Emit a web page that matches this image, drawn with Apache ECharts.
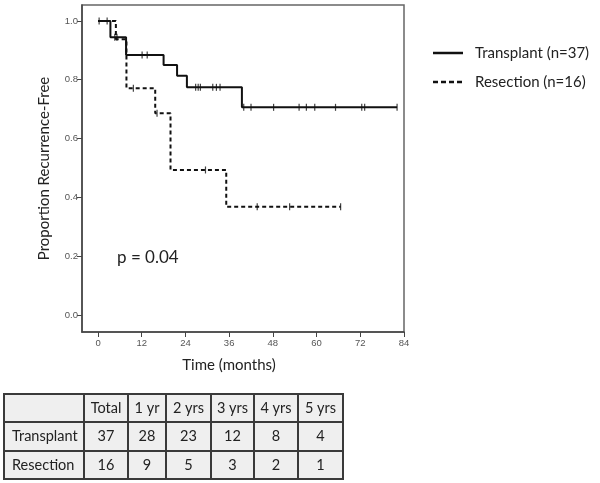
<!DOCTYPE html>
<html><head><meta charset="utf-8">
<script src="https://cdn.jsdelivr.net/npm/echarts@6/dist/echarts.min.js"></script>
<style>html,body{margin:0;padding:0;background:#fff}#c{width:600px;height:483px}</style>
</head><body><div id="c"></div>
<script>
// Kaplan-Meier step points [month, proportion]
const transplantCurve = [[0,1.0],[3.4,0.944],[7.7,0.884],[18.0,0.850],[21.7,0.813],[24.4,0.774],[39.5,0.706],[82.1,0.706]];
const resectionCurve = [[0,1.0],[4.9,0.9375],[7.8,0.771],[15.7,0.686],[19.9,0.493],[35.2,0.368],[66.6,0.368]];
// censor times (months)
const transplantCensor = [0.3,2.5,4.6,5.2,12.1,13.5,26.8,27.5,28.1,31.5,32.5,33.5,40.0,42.0,48.2,55.2,57.2,59.5,65.2,72.4,73.2,82.1];
const resectionCensor = [9.7,16.2,29.5,43.7,52.6,66.6];
const xTicks = [0,12,24,36,48,60,72,84];
const yTicks = [0.0,0.2,0.4,0.6,0.8,1.0];
const legendNames = ['Transplant (n=37)', 'Resection (n=16)'];
const tableHeader = ['', 'Total', '1 yr', '2 yrs', '3 yrs', '4 yrs', '5 yrs'];
const tableRows = [['Transplant', 37, 28, 23, 12, 8, 4], ['Resection', 16, 9, 5, 3, 2, 1]];
const pText = 'p = 0.04';

function survAt(curve, t){ let v = curve[0][1]; for (const p of curve){ if (p[0] <= t) v = p[1]; } return v; }

const chart = echarts.init(document.getElementById('c'));
const font = 'Lato, "Open Sans", sans-serif';

// table graphics
const colX = [4,84,128,166,211,254,298,343];
const rowY = [394,422,451,479];
const g = [];
const allRows = [tableHeader].concat(tableRows);
for (let r = 0; r < allRows.length; r++) {
  for (let c = 0; c < 7; c++) {
    g.push({type:'rect', shape:{x:colX[c], y:rowY[r], width:colX[c+1]-colX[c], height:rowY[r+1]-rowY[r]},
      style:{fill:'#efefef', stroke:'#3a3a3a', lineWidth:2}, z:1});
    const txt = String(allRows[r][c]);
    if (!txt) continue;
    const left = c === 0;
    g.push({type:'text', x: left ? colX[c]+8 : (colX[c]+colX[c+1])/2, y:(rowY[r]+rowY[r+1])/2,
      style:{text:txt, font:'14.5px ' + font, fill:'#222', align: left ? 'left':'center', verticalAlign:'middle'}, z:2});
  }
}
g.push({type:'text', x:117, y:258, style:{text:pText, font:'17px ' + font, fill:'#222', align:'left', verticalAlign:'middle'}});
// legend
const legY = [53, 82];
legendNames.forEach((n, i) => {
  g.push({type:'line', shape:{x1:433, y1:legY[i], x2:463, y2:legY[i]},
    style:{stroke:'#111', lineWidth:2.5, lineDash: i === 1 ? [5,3] : null}});
  g.push({type:'text', x:475, y:legY[i], style:{text:n, font:'15px ' + font, fill:'#222', align:'left', verticalAlign:'middle'}});
});

chart.setOption({
  animation:false,
  grid:{left:82, right:196, top:5, bottom:151, show:true, borderColor:'#666', borderWidth:1.5},
  xAxis:{type:'value', min:-4.4, max:84,
    axisLine:{show:true, onZero:false, lineStyle:{color:'#444', width:1.5}},
    axisTick:{show:true, length:5, customValues:xTicks, lineStyle:{color:'#444'}},
    axisLabel:{customValues:xTicks, fontSize:9.5, color:'#555', fontFamily:'"Liberation Sans", Arial, sans-serif', margin:6},
    splitLine:{show:false},
    name:'Time (months)', nameLocation:'middle', nameGap:26,
    nameTextStyle:{fontFamily:font, fontSize:15, color:'#222', padding:[0,28,0,0]}},
  yAxis:{type:'value', min:-0.058, max:1.054,
    axisLine:{show:true, onZero:false, lineStyle:{color:'#444', width:1.5}},
    axisTick:{show:true, length:5, customValues:yTicks, lineStyle:{color:'#444'}},
    axisLabel:{customValues:yTicks, fontSize:9.5, color:'#555', fontFamily:'"Liberation Sans", Arial, sans-serif', margin:4,
      formatter:v=>v.toFixed(1)},
    splitLine:{show:false},
    name:'Proportion Recurrence-Free', nameLocation:'middle', nameGap:30,
    nameTextStyle:{fontFamily:font, fontSize:15, color:'#222'}},
  graphic:g,
  series:[
    {name:legendNames[0], type:'line', step:'end', data:transplantCurve, showSymbol:false, symbol:'none',
      lineStyle:{color:'#111', width:2}, itemStyle:{color:'#111'}, z:3},
    {name:legendNames[1], type:'line', step:'end', data:resectionCurve, showSymbol:false, symbol:'none',
      lineStyle:{color:'#111', width:2, type:[4,3]}, itemStyle:{color:'#111'}, z:3},
    {name:'tc', type:'scatter', symbol:'rect', symbolSize:[1.2,7], itemStyle:{color:'#111'},
      data:transplantCensor.map(t=>[t, survAt(transplantCurve,t)]), z:4},
    {name:'rc', type:'scatter', symbol:'rect', symbolSize:[1.2,7], itemStyle:{color:'#111'},
      data:resectionCensor.map(t=>[t, survAt(resectionCurve,t)]), z:4}
  ]
});
</script></body></html>
